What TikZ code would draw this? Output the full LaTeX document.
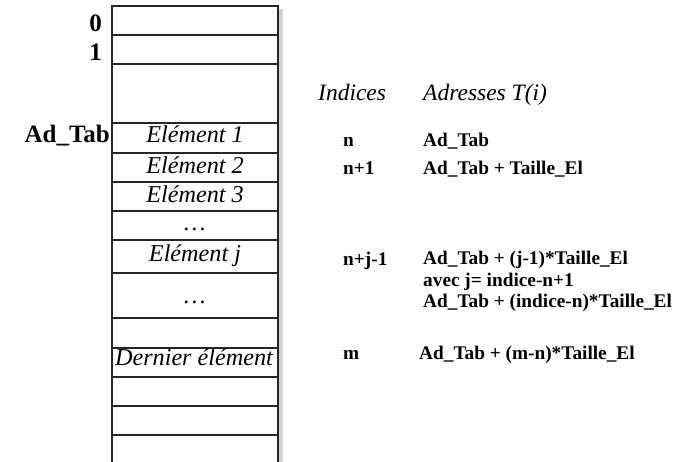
\documentclass[tikz,border=0pt]{standalone}
\usepackage{fontspec}
\setmainfont{Liberation Serif}
\begin{document}
\begin{tikzpicture}[x=1pt,y=-1pt,
  cell/.style={line width=1.3pt,draw=black!85},
  coltext/.style={anchor=base,font=\fontsize{24.2}{28}\selectfont\itshape,inner sep=0pt},
  lefttext/.style={anchor=base east,font=\fontsize{25}{28}\selectfont\bfseries,inner sep=0pt},
  headtext/.style={anchor=base west,font=\fontsize{23.5}{28}\selectfont\itshape,inner sep=0pt},
  righttext/.style={anchor=base west,font=\fontsize{19.3}{21.5}\selectfont\bfseries,inner sep=0pt,align=left}]
\useasboundingbox (0,0) rectangle (681,462);
% shadow
\fill[black!18] (279,9) rectangle (283,462);
% column
\draw[cell] (112,462) -- (112,6) -- (278,6) -- (278,462);
\foreach \yy in {35,64,123,153,182,211,240,273,318,348,377,406,435}
  \draw[cell] (112,\yy) -- (278,\yy);
% left labels
\node[lefttext] (l0) at (102,32) {0};
\node[lefttext] (l1) at (102,61) {1};
\node[lefttext] (lad) at (110,143) {Ad\_Tab};
% column texts
\node[coltext] (e1) at (195,143) {Elément 1};
\node[coltext] (e2) at (195,174) {Elément 2};
\node[coltext] (e3) at (195,203) {Elément 3};
\node[coltext] (d1) at (195,231) {\dots};
\node[coltext] (ej) at (195,262) {Elément j};
\node[coltext] (d2) at (195,304) {\dots};
\node[coltext] (ed) at (194,366) {Dernier élément};
% headings
\node[headtext] (hi) at (318,101) {Indices};
\node[headtext] (ha) at (423,101) {Adresses T(i)};
% right rows
\node[righttext] (in) at (343,147) {n};
\node[righttext] (an) at (423,147) {Ad\_Tab};
\node[righttext] (in1) at (343,175) {n+1};
\node[righttext] (an1) at (423,175) {Ad\_Tab + Taille\_El};
\node[righttext] (ij) at (343,266) {n+j-1};
\node[righttext,anchor=north west] (aj) at (423,251) {Ad\_Tab + (j-1)*Taille\_El\\avec j= indice-n+1\\Ad\_Tab + (indice-n)*Taille\_El};
\node[righttext] (im) at (343,360) {m};
\node[righttext] (am) at (419,360) {Ad\_Tab + (m-n)*Taille\_El};
\end{tikzpicture}
\end{document}
